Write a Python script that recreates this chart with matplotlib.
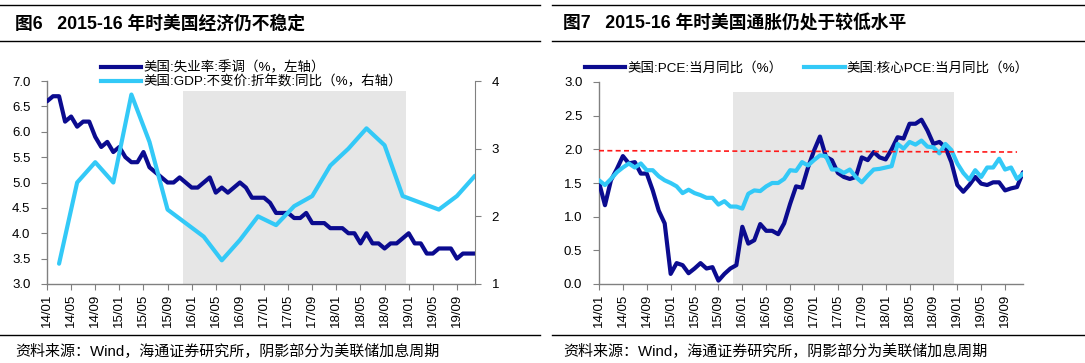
import matplotlib
matplotlib.use("Agg")
import matplotlib.pyplot as plt
from matplotlib.lines import Line2D
import numpy as np

plt.rcParams['font.family'] = ['Liberation Sans', 'Noto Sans CJK SC']
plt.rcParams['axes.unicode_minus'] = False

# ---------------- data ----------------
months = [f"{y:02d}/{m:02d}" for y in range(14, 20) for m in range(1, 13)]  # 14/01 .. 19/12
tick_labels = [months[i] for i in range(0, len(months), 4)]  # 14/01, 14/05, ... 19/09

unemployment = [6.6, 6.7, 6.7, 6.2, 6.3, 6.1, 6.2, 6.2, 5.9, 5.7, 5.8, 5.6,
                5.7, 5.5, 5.4, 5.4, 5.6, 5.3, 5.2, 5.1, 5.0, 5.0, 5.1, 5.0,
                4.9, 4.9, 5.0, 5.1, 4.8, 4.9, 4.8, 4.9, 5.0, 4.9, 4.7, 4.7,
                4.7, 4.6, 4.4, 4.4, 4.4, 4.3, 4.3, 4.4, 4.2, 4.2, 4.2, 4.1,
                4.1, 4.1, 4.0, 4.0, 3.8, 4.0, 3.8, 3.8, 3.7, 3.8, 3.8, 3.9,
                4.0, 3.8, 3.8, 3.6, 3.6, 3.7, 3.7, 3.7, 3.5, 3.6, 3.6, 3.6]

gdp_quarters = ["14/03", "14/06", "14/09", "14/12", "15/03", "15/06", "15/09", "15/12",
                "16/03", "16/06", "16/09", "16/12", "17/03", "17/06", "17/09", "17/12",
                "18/03", "18/06", "18/09", "18/12", "19/03", "19/06", "19/09", "19/12"]
gdp_yoy = [1.3, 2.5, 2.8, 2.5, 3.8, 3.1, 2.1, 1.9,
           1.7, 1.35, 1.65, 2.0, 1.87, 2.15, 2.3, 2.75,
           3.0, 3.3, 3.05, 2.3, 2.2, 2.1, 2.3, 2.6]

pce = [1.51, 1.17, 1.54, 1.71, 1.90, 1.79, 1.81, 1.64, 1.64, 1.39, 1.09, 0.90,
       0.15, 0.31, 0.28, 0.16, 0.23, 0.31, 0.23, 0.25, 0.05, 0.15, 0.23, 0.28,
       0.85, 0.60, 0.65, 0.89, 0.79, 0.79, 0.74, 0.90, 1.19, 1.45, 1.43, 1.73,
       1.98, 2.19, 1.89, 1.84, 1.65, 1.59, 1.56, 1.59, 1.88, 1.84, 1.96, 1.88,
       1.85, 2.00, 2.18, 2.16, 2.38, 2.38, 2.44, 2.28, 2.08, 2.11, 2.03, 1.81,
       1.47, 1.37, 1.47, 1.59, 1.49, 1.47, 1.51, 1.51, 1.39, 1.42, 1.44, 1.66]

core_pce = [1.54, 1.47, 1.56, 1.66, 1.73, 1.79, 1.73, 1.79, 1.69, 1.69, 1.60, 1.54,
            1.50, 1.45, 1.35, 1.40, 1.35, 1.32, 1.28, 1.28, 1.18, 1.23, 1.15, 1.15,
            1.12, 1.34, 1.39, 1.38, 1.45, 1.50, 1.50, 1.56, 1.69, 1.68, 1.81, 1.76,
            1.84, 1.91, 1.90, 1.70, 1.70, 1.65, 1.70, 1.59, 1.51, 1.61, 1.70, 1.71,
            1.73, 1.75, 2.08, 2.01, 2.11, 2.07, 2.13, 2.04, 2.03, 1.94, 2.08, 1.99,
            1.79, 1.65, 1.55, 1.69, 1.59, 1.73, 1.73, 1.86, 1.70, 1.73, 1.56, 1.64]

target_line = [1.98, 1.96]          # red dashed reference, from 14/01 to 19/11
target_span = ["14/01", "19/11"]

hike_months = months[months.index("15/12"):months.index("18/12") + 1]
shade_left = 6.8
shade_right = 2.85

# ---------------- styles ----------------
DARK = '#0B0B8F'
LIGHT = '#33C9F7'
GRAY = '#E6E6E6'
AX = '#808080'
W, H = 1085, 363

fig = plt.figure(figsize=(W / 100, H / 100), dpi=100)

def fx(px):
    return px / W

def fy(py):
    return 1 - py / H

x = np.arange(len(months))
idx = {m: i for i, m in enumerate(months)}
tick_pos = [idx[t] for t in tick_labels]

def style_axis(ax):
    ax.spines['top'].set_visible(False)
    for s in ['left', 'bottom', 'right']:
        ax.spines[s].set_color(AX)
        ax.spines[s].set_linewidth(1.0)
    ax.set_xlim(0, len(months) - 1)
    ax.set_xticks(tick_pos)
    ax.set_xticklabels(tick_labels, rotation=90, fontsize=9.5)
    ax.tick_params(axis='both', direction='out', length=4, color=AX, labelsize=9.5, pad=2)
    ax.tick_params(axis='x', pad=3)
    ax.tick_params(axis='y', pad=8)

# ---------------- left chart ----------------
ax1 = fig.add_axes([fx(47), fy(284), fx(475) - fx(47), fy(81) - fy(284)])
ax1.bar([idx[m] for m in hike_months], [shade_left - 3.0] * len(hike_months), bottom=3.0,
        width=1.0, color=GRAY, linewidth=0, zorder=0)
ax1.plot(x, unemployment, color=DARK, lw=3.0, solid_joinstyle='round', solid_capstyle='round', zorder=3)
ax1.set_ylim(3.0, 7.0)
ax1.set_yticks(np.arange(3.0, 7.01, 0.5))
ax1.set_yticklabels([f"{v:.1f}" for v in np.arange(3.0, 7.01, 0.5)])
style_axis(ax1)
ax1.spines['right'].set_visible(False)

ax1b = ax1.twinx()
ax1b.plot([idx[q] for q in gdp_quarters], gdp_yoy, color=LIGHT, lw=3.0,
          solid_joinstyle='round', solid_capstyle='round', zorder=4)
ax1b.set_ylim(1, 4)
ax1b.set_yticks([1, 2, 3, 4])
for s in ['top', 'left', 'bottom']:
    ax1b.spines[s].set_visible(False)
ax1b.spines['right'].set_color(AX)
ax1b.tick_params(axis='y', direction='out', length=4, color=AX, labelsize=9.5, pad=8)

# ---------------- right chart ----------------
ax2 = fig.add_axes([fx(599), fy(284), fx(1023) - fx(599), fy(82) - fy(284)])
ax2.bar([idx[m] for m in hike_months], [shade_right] * len(hike_months), bottom=0,
        width=1.0, color=GRAY, linewidth=0, zorder=0)
ax2.plot(x, pce, color=DARK, lw=3.0, solid_joinstyle='round', solid_capstyle='round', zorder=3)
ax2.plot(x, core_pce, color=LIGHT, lw=3.0, solid_joinstyle='round', solid_capstyle='round', zorder=4)
ax2.plot([idx[t] for t in target_span], target_line, color='#FF1A1A', lw=1.2,
         ls=(0, (3, 2)), zorder=5)
ax2.set_ylim(0, 3.0)
ax2.set_yticks(np.arange(0, 3.01, 0.5))
ax2.set_yticklabels([f"{v:.1f}" for v in np.arange(0, 3.01, 0.5)])
style_axis(ax2)
ax2.spines['right'].set_visible(False)

# ---------------- legends ----------------
h_dark = Line2D([], [], color=DARK, lw=3.0)
h_light = Line2D([], [], color=LIGHT, lw=3.0)

fig.legend([h_dark, h_light], ["美国:失业率:季调（%，左轴）", "美国:GDP:不变价:折年数:同比（%，右轴）"],
           loc='upper left', bbox_to_anchor=(fx(101), fy(61)), frameon=False, fontsize=9.7,
           handlelength=3.0, handletextpad=0.15, labelspacing=0.05, borderpad=0, borderaxespad=0)

fig.legend([h_dark, h_light], ["美国:PCE:当月同比（%）", "美国:核心PCE:当月同比（%）"],
           loc='upper left', bbox_to_anchor=(fx(585), fy(62)), frameon=False, fontsize=9.7,
           ncol=2, handlelength=3.0, handletextpad=0.15, columnspacing=1.6, borderpad=0, borderaxespad=0)

# ---------------- titles, rules, footers ----------------
fig.text(fx(15), fy(24), "图6   2015-16 年时美国经济仍不稳定", fontsize=12.8, fontweight='bold',
         va='center', ha='left')
fig.text(fx(563), fy(24), "图7   2015-16 年时美国通胀仍处于较低水平", fontsize=12.8, fontweight='bold',
         va='center', ha='left')

for (x0, x1) in [(0, 540), (552, 1085)]:
    for yy in [5, 41, 335]:
        fig.add_artist(Line2D([fx(x0), fx(x1)], [fy(yy), fy(yy)], color='black', lw=1.0))

fig.text(fx(15), fy(351), "资料来源：Wind，海通证券研究所，阴影部分为美联储加息周期", fontsize=10.8,
         va='center', ha='left')
fig.text(fx(563), fy(351), "资料来源：Wind，海通证券研究所，阴影部分为美联储加息周期", fontsize=10.8,
         va='center', ha='left')

fig.savefig("out.png", dpi=100)
